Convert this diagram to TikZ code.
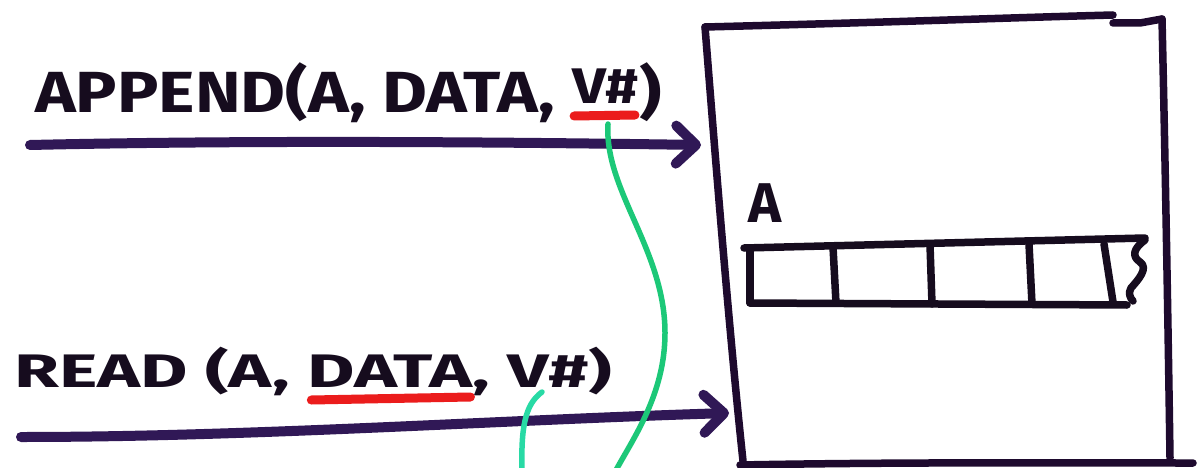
\documentclass[tikz,border=0pt]{standalone}
\usepackage{fontspec}
\setmainfont{Fira Sans}
\usetikzlibrary{arrows.meta}
\definecolor{ink}{RGB}{22,12,30}
\definecolor{arrowc}{RGB}{48,24,86}
\definecolor{boxc}{RGB}{30,10,46}
\definecolor{greenA}{RGB}{28,200,120}
\definecolor{greenB}{RGB}{40,218,165}
\definecolor{redu}{RGB}{235,28,28}
\newcommand\hwA[1]{\scalebox{1.19}[1]{#1}}
\newcommand\hwB[1]{\scalebox{1.55}[1]{#1}}
\begin{document}
\begin{tikzpicture}[x=1pt,y=-1pt,
  lblA/.style={inner sep=0pt, anchor=base west, text=ink, font=\fontsize{58}{60}\selectfont\bfseries},
  lblV/.style={inner sep=0pt, anchor=base west, text=ink, font=\fontsize{50}{54}\selectfont\bfseries},
  lblB/.style={inner sep=0pt, anchor=base west, text=ink, font=\fontsize{47}{50}\selectfont\bfseries},
  call/.style={line width=10pt, draw=arrowc, line cap=round, line join=round,
    -{Straight Barb[length=20pt,width=38pt,round]}},
  boxline/.style={line width=7.5pt, draw=boxc, line cap=round, line join=round},
  cellline/.style={line width=7.5pt, draw=ink, line cap=round, line join=round},
  redline/.style={line width=9pt, draw=redu, line cap=round},
  greenlineA/.style={line width=5.5pt, draw=greenA, line cap=round},
  greenlineB/.style={line width=5.5pt, draw=greenB, line cap=round}]
\useasboundingbox (0,0) rectangle (1204,468);
\fill[white] (0,0) rectangle (1204,468);

% storage box
\coordinate (btl) at (705,27);
\coordinate (btr) at (1162,19);
\coordinate (bbl) at (743,461);
\coordinate (bbr) at (1170,458);
\draw[boxline] (btl) .. controls (900,22) and (1000,18) .. (1113,15) (1113,23) -- (1140,23) -- (btr);
\draw[boxline] (btl) .. controls (714,140) and (728,320) .. (bbl);
\draw[boxline] (btr) .. controls (1165,150) and (1168,320) .. (bbr);
\draw[boxline] (740,465) .. controls (900,462) and (1050,463) .. (1193,463);

% array A
\node[lblA, font=\fontsize{56}{60}\selectfont\bfseries] (alabel) at (748,222) {A};
\coordinate (a0t) at (744,248);
\coordinate (a0b) at (750,303);
\draw[cellline] (a0t) -- (1145,238);
\draw[cellline] (a0b) -- (1127,305);
\draw[cellline] (750,248) -- (a0b);
\draw[cellline] (833,247) -- (836,303);
\draw[cellline] (930,245) -- (932,304);
\draw[cellline] (1029,244) -- (1032,304);
\draw[cellline] (1104,244) -- (1113,302);
\draw[cellline] (1145,240) .. controls (1134,248) and (1131,256) .. (1140,262)
  .. controls (1149,268) and (1138,280) .. (1131,288) .. controls (1128,293) and (1130,298) .. (1133,301);

% APPEND call
\node[lblA] (ap1) at (35,113) {\hwA{APPEND(A, DATA,\ }};
\node[lblV] (apv) at ([yshift=9pt]ap1.base east) {\hwA{V\#}};
\node[lblA] (ap2) at ([yshift=-9pt]apv.base east) {\hwA{)}};
\draw[redline] ([xshift=2pt,yshift=-12pt]apv.base west) -- ([xshift=-4pt,yshift=-11pt]apv.base east);
\coordinate (t1s) at (30,145);
\coordinate (t1e) at (701,145);
\draw[call] (t1s) .. controls (250,140) and (500,142) .. (t1e);

% READ call
\node[lblB] (rd1) at (14,387) {\hwB{READ (A,\ }};
\node[lblB] (rdd) at (rd1.base east) {\hwB{DATA}};
\node[lblB] (rd2) at (rdd.base east) {\hwB{, V\#)}};
\draw[redline] ([xshift=4pt,yshift=-13pt]rdd.base west) -- ([xshift=-2pt,yshift=-10pt]rdd.base east);
\coordinate (t2s) at (21,437);
\coordinate (t2e) at (729,413);
\draw[call] (t2s) .. controls (250,437) and (500,420) .. (t2e);

% green version links
\coordinate (g1s) at (608,124);
\coordinate (g1e) at (615,472);
\draw[greenlineA] (g1s) .. controls (604,190) and (665,250) .. (665,333)
  .. controls (665,395) and (632,440) .. (g1e);
\coordinate (g2s) at (542,392);
\coordinate (g2e) at (522,472);
\draw[greenlineB] (g2s) .. controls (524,405) and (521,430) .. (g2e);
\end{tikzpicture}
\end{document}
